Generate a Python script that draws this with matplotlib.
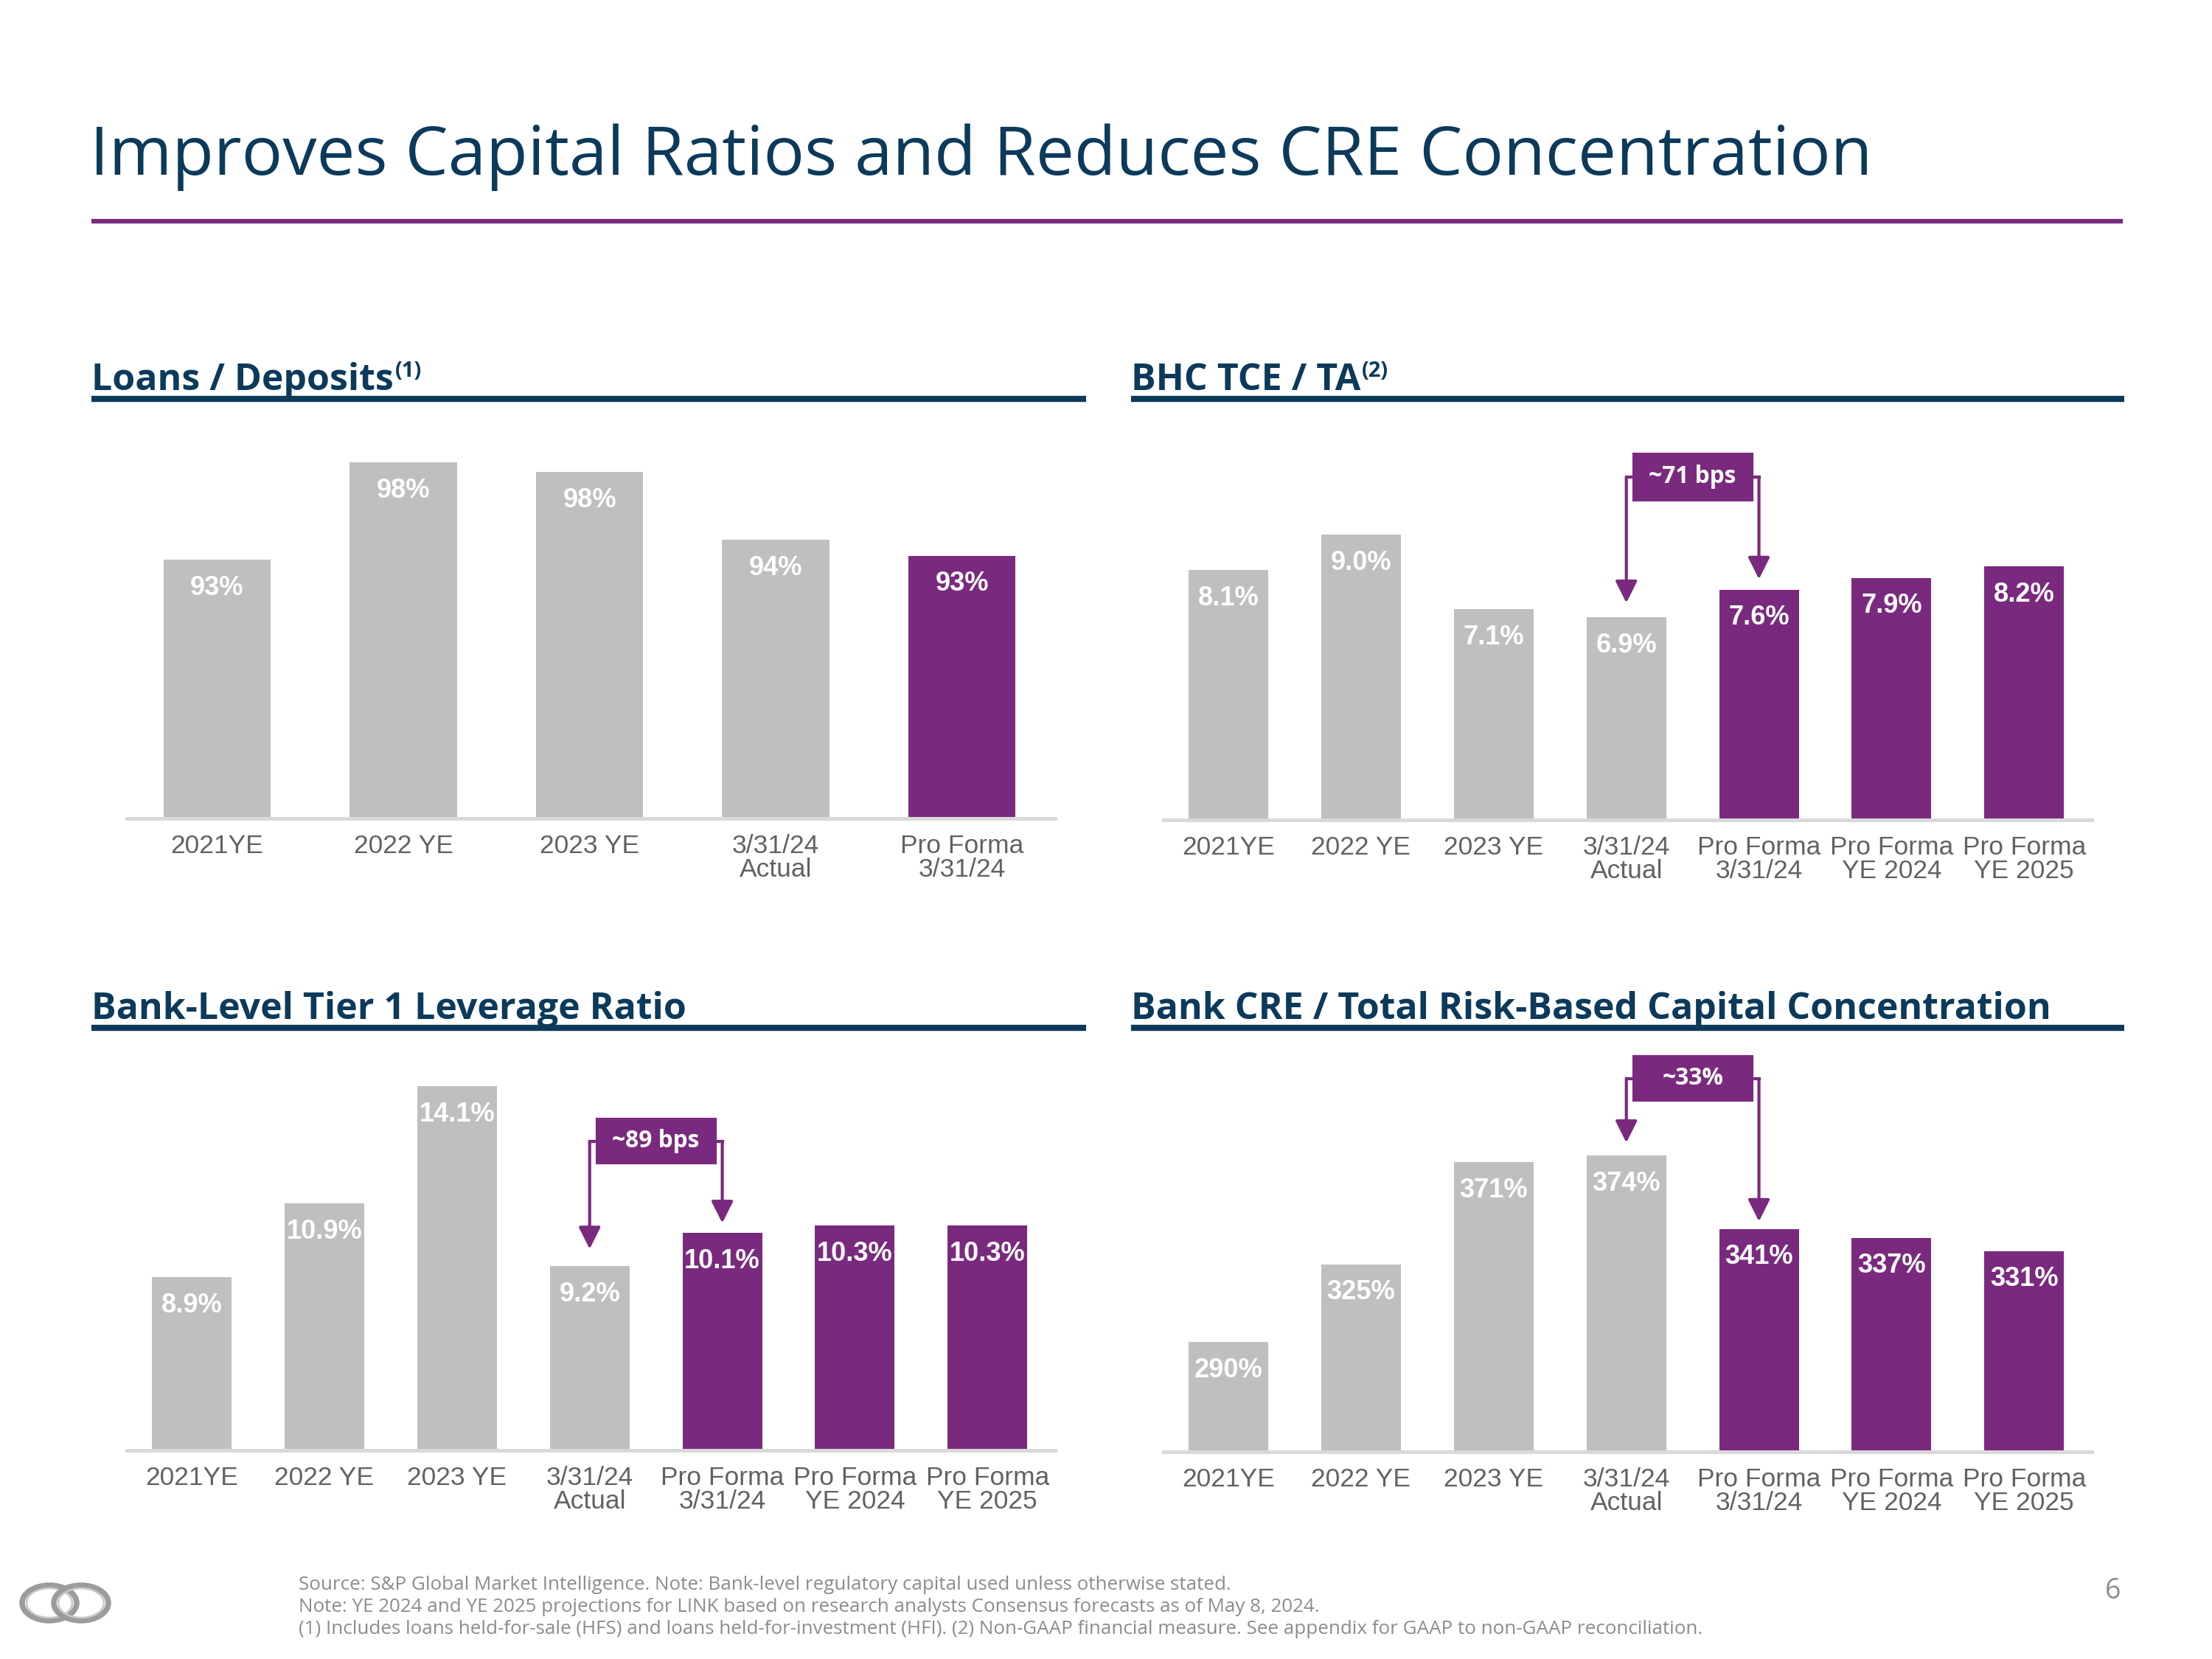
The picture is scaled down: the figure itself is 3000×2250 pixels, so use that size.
import matplotlib
matplotlib.use("Agg")
import matplotlib.pyplot as plt
from matplotlib.patches import Ellipse, Rectangle

# colours
NAVY = "#0B3A5B"
PURPLE = "#7A2A7E"
GRAY = "#BFBFBF"
TICK = "#5F6366"
NOTE = "#8C8C8C"

# data
loans_labels = ["2021YE", "2022 YE", "2023 YE", "3/31/24\nActual", "Pro Forma\n3/31/24"]
loans_values = [93.0, 98.0, 97.5, 94.0, 93.2]

period_labels = ["2021YE", "2022 YE", "2023 YE", "3/31/24\nActual",
                 "Pro Forma\n3/31/24", "Pro Forma\nYE 2024", "Pro Forma\nYE 2025"]
tce_values = [8.1, 9.0, 7.1, 6.9, 7.6, 7.9, 8.2]
tier1_values = [8.9, 10.9, 14.1, 9.2, 10.1, 10.3, 10.3]
cre_values = [290, 325, 371, 374, 341, 337, 331]

title = "Improves Capital Ratios and Reduces CRE Concentration"
footnotes = [
    "Source: S&P Global Market Intelligence. Note: Bank-level regulatory capital used unless otherwise stated.",
    "Note: YE 2024 and YE 2025 projections for LINK based on research analysts Consensus forecasts as of May 8, 2024.",
    "(1) Includes loans held-for-sale (HFS) and loans held-for-investment (HFI). (2) Non-GAAP financial measure. See appendix for GAAP to non-GAAP reconciliation.",
]

W, H = 3000, 2250
NARROW = ["Liberation Sans Narrow", "Liberation Sans", "DejaVu Sans"]
ARIAL = ["Liberation Sans", "DejaVu Sans"]
HEAD = ["Open Sans", "Lato", "DejaVu Sans"]

fig = plt.figure(figsize=(10, 7.5), dpi=300)
fig.patch.set_facecolor("white")

# overlay axes in pixel coordinates for slide decoration
deco = fig.add_axes([0, 0, 1, 1])
deco.set_xlim(0, W)
deco.set_ylim(H, 0)
deco.axis("off")

deco.text(122, 237, title, fontsize=22.2, color=NAVY, family=HEAD, va="baseline", ha="left")
deco.plot([124, 2879], [300, 300], color=PURPLE, lw=1.5, solid_capstyle="butt")


def panel_title(x0, x1, base, text, sup=None):
    t = deco.text(x0, base, text, fontsize=12.0, color=NAVY, family=HEAD, weight="bold",
                  va="baseline", ha="left")
    if sup:
        deco.annotate(sup, xy=(1, 1), xycoords=t, xytext=(0.5, 0.5), textcoords="offset points",
                      fontsize=7, color=NAVY, family=HEAD, weight="bold", va="top", ha="left")
    deco.plot([x0, x1], [base + 12, base + 12], color=NAVY, lw=2.0, solid_capstyle="butt")


panel_title(124, 1473, 529, "Loans / Deposits", "(1)")
panel_title(1534, 2881, 529, "BHC TCE / TA", "(2)")
panel_title(124, 1473, 1382, "Bank-Level Tier 1 Leverage Ratio")
panel_title(1534, 2881, 1382, "Bank CRE / Total Risk-Based Capital Concentration")

for i, line in enumerate(footnotes):
    deco.text(405, 2156 + 30 * i, line, fontsize=6.25, color=NOTE, family=HEAD, va="baseline")
deco.text(2866, 2168, "6", fontsize=9, color=NOTE, family=HEAD, ha="center", va="baseline")

# logo: two interlocking rings
for cx in (67, 110):
    deco.add_patch(Ellipse((cx, 2174), 74, 48, fill=False, ec="#9C9C9C", lw=1.8))
    deco.add_patch(Ellipse((cx, 2174), 62, 40, fill=False, ec="#C8C8C8", lw=0.6))


def bar_panel(x0, x1, top, base, labels, values, n_gray, ylim, xlim, width, fmt):
    ax = fig.add_axes([x0 / W, 1 - base / H, (x1 - x0) / W, (base - top) / H])
    ax.patch.set_visible(False)
    colors = [GRAY] * n_gray + [PURPLE] * (len(values) - n_gray)
    xs = list(range(len(values)))
    ax.bar(xs, values, width=width, color=colors, zorder=2)
    ax.set_ylim(*ylim)
    ax.set_xlim(*xlim)
    for x, v in zip(xs, values):
        ax.annotate(fmt.format(v), xy=(x, v), xytext=(0, -5), textcoords="offset points",
                    ha="center", va="top", color="white", fontsize=8.7, family=NARROW,
                    weight="bold", zorder=3)
    ax.set_xticks(xs)
    ax.set_xticklabels(labels, fontsize=8.5, color=TICK, family=ARIAL, linespacing=0.95)
    ax.tick_params(axis="x", length=0, pad=5)
    ax.set_yticks([])
    for s in ("top", "left", "right"):
        ax.spines[s].set_visible(False)
    ax.spines["bottom"].set_color("#D9D9D9")
    ax.spines["bottom"].set_linewidth(1.2)
    ax.spines["bottom"].set_zorder(3)
    return ax


def bracket(ax, i0, i1, values, cy, bh, text, gaps):
    cx = (i0 + i1) / 2
    bw = 0.89
    ax.add_patch(Rectangle((cx - bw / 2, cy - bh / 2), bw, bh, color=PURPLE, clip_on=False, zorder=4))
    ax.text(cx, cy, text, color="white", fontsize=7.6, family=HEAD, weight="bold",
            ha="center", va="center", zorder=5, clip_on=False)
    ax.plot([i0, cx - bw / 2], [cy, cy], color=PURPLE, lw=1.0, clip_on=False, zorder=4,
            solid_capstyle="projecting")
    ax.plot([cx + bw / 2, i1], [cy, cy], color=PURPLE, lw=1.0, clip_on=False, zorder=4,
            solid_capstyle="projecting")
    for i, g in zip((i0, i1), gaps):
        ax.annotate("", xy=(i, values[i]), xytext=(i, cy),
                    arrowprops=dict(arrowstyle="-|>,head_length=0.6,head_width=0.3",
                                    color=PURPLE, lw=1.0, shrinkA=0, shrinkB=g),
                    annotation_clip=False, zorder=4)


bar_panel(172, 1431, 574, 1110, loans_labels, loans_values, 4,
          (79.7, 100.0), (-0.485, 4.5), 0.576, "{:.0f}%")

ax_tce = bar_panel(1578, 2837, 574, 1112, period_labels, tce_values, 4,
                   (1.73, 11.84), (-0.49, 6.51), 0.6, "{:.1f}%")
bracket(ax_tce, 3, 4, tce_values, 10.47, 1.15, "~71 bps", (4.6, 3.4))

ax_t1 = bar_panel(172, 1431, 1435, 1967, period_labels, tier1_values, 4,
                  (4.17, 14.87), (-0.49, 6.51), 0.6, "{:.1f}%")
bracket(ax_t1, 3, 4, tier1_values, 12.6, 1.19, "~89 bps", (5.5, 3.2))

ax_cre = bar_panel(1578, 2837, 1435, 1969, period_labels, cre_values, 4,
                   (240.4, 418.0), (-0.49, 6.51), 0.6, "{:.0f}%")
bracket(ax_cre, 3, 4, cre_values, 408.8, 19.7, "~33%", (4.2, 2.4))

fig.savefig("out.png", dpi=300, facecolor="white")
